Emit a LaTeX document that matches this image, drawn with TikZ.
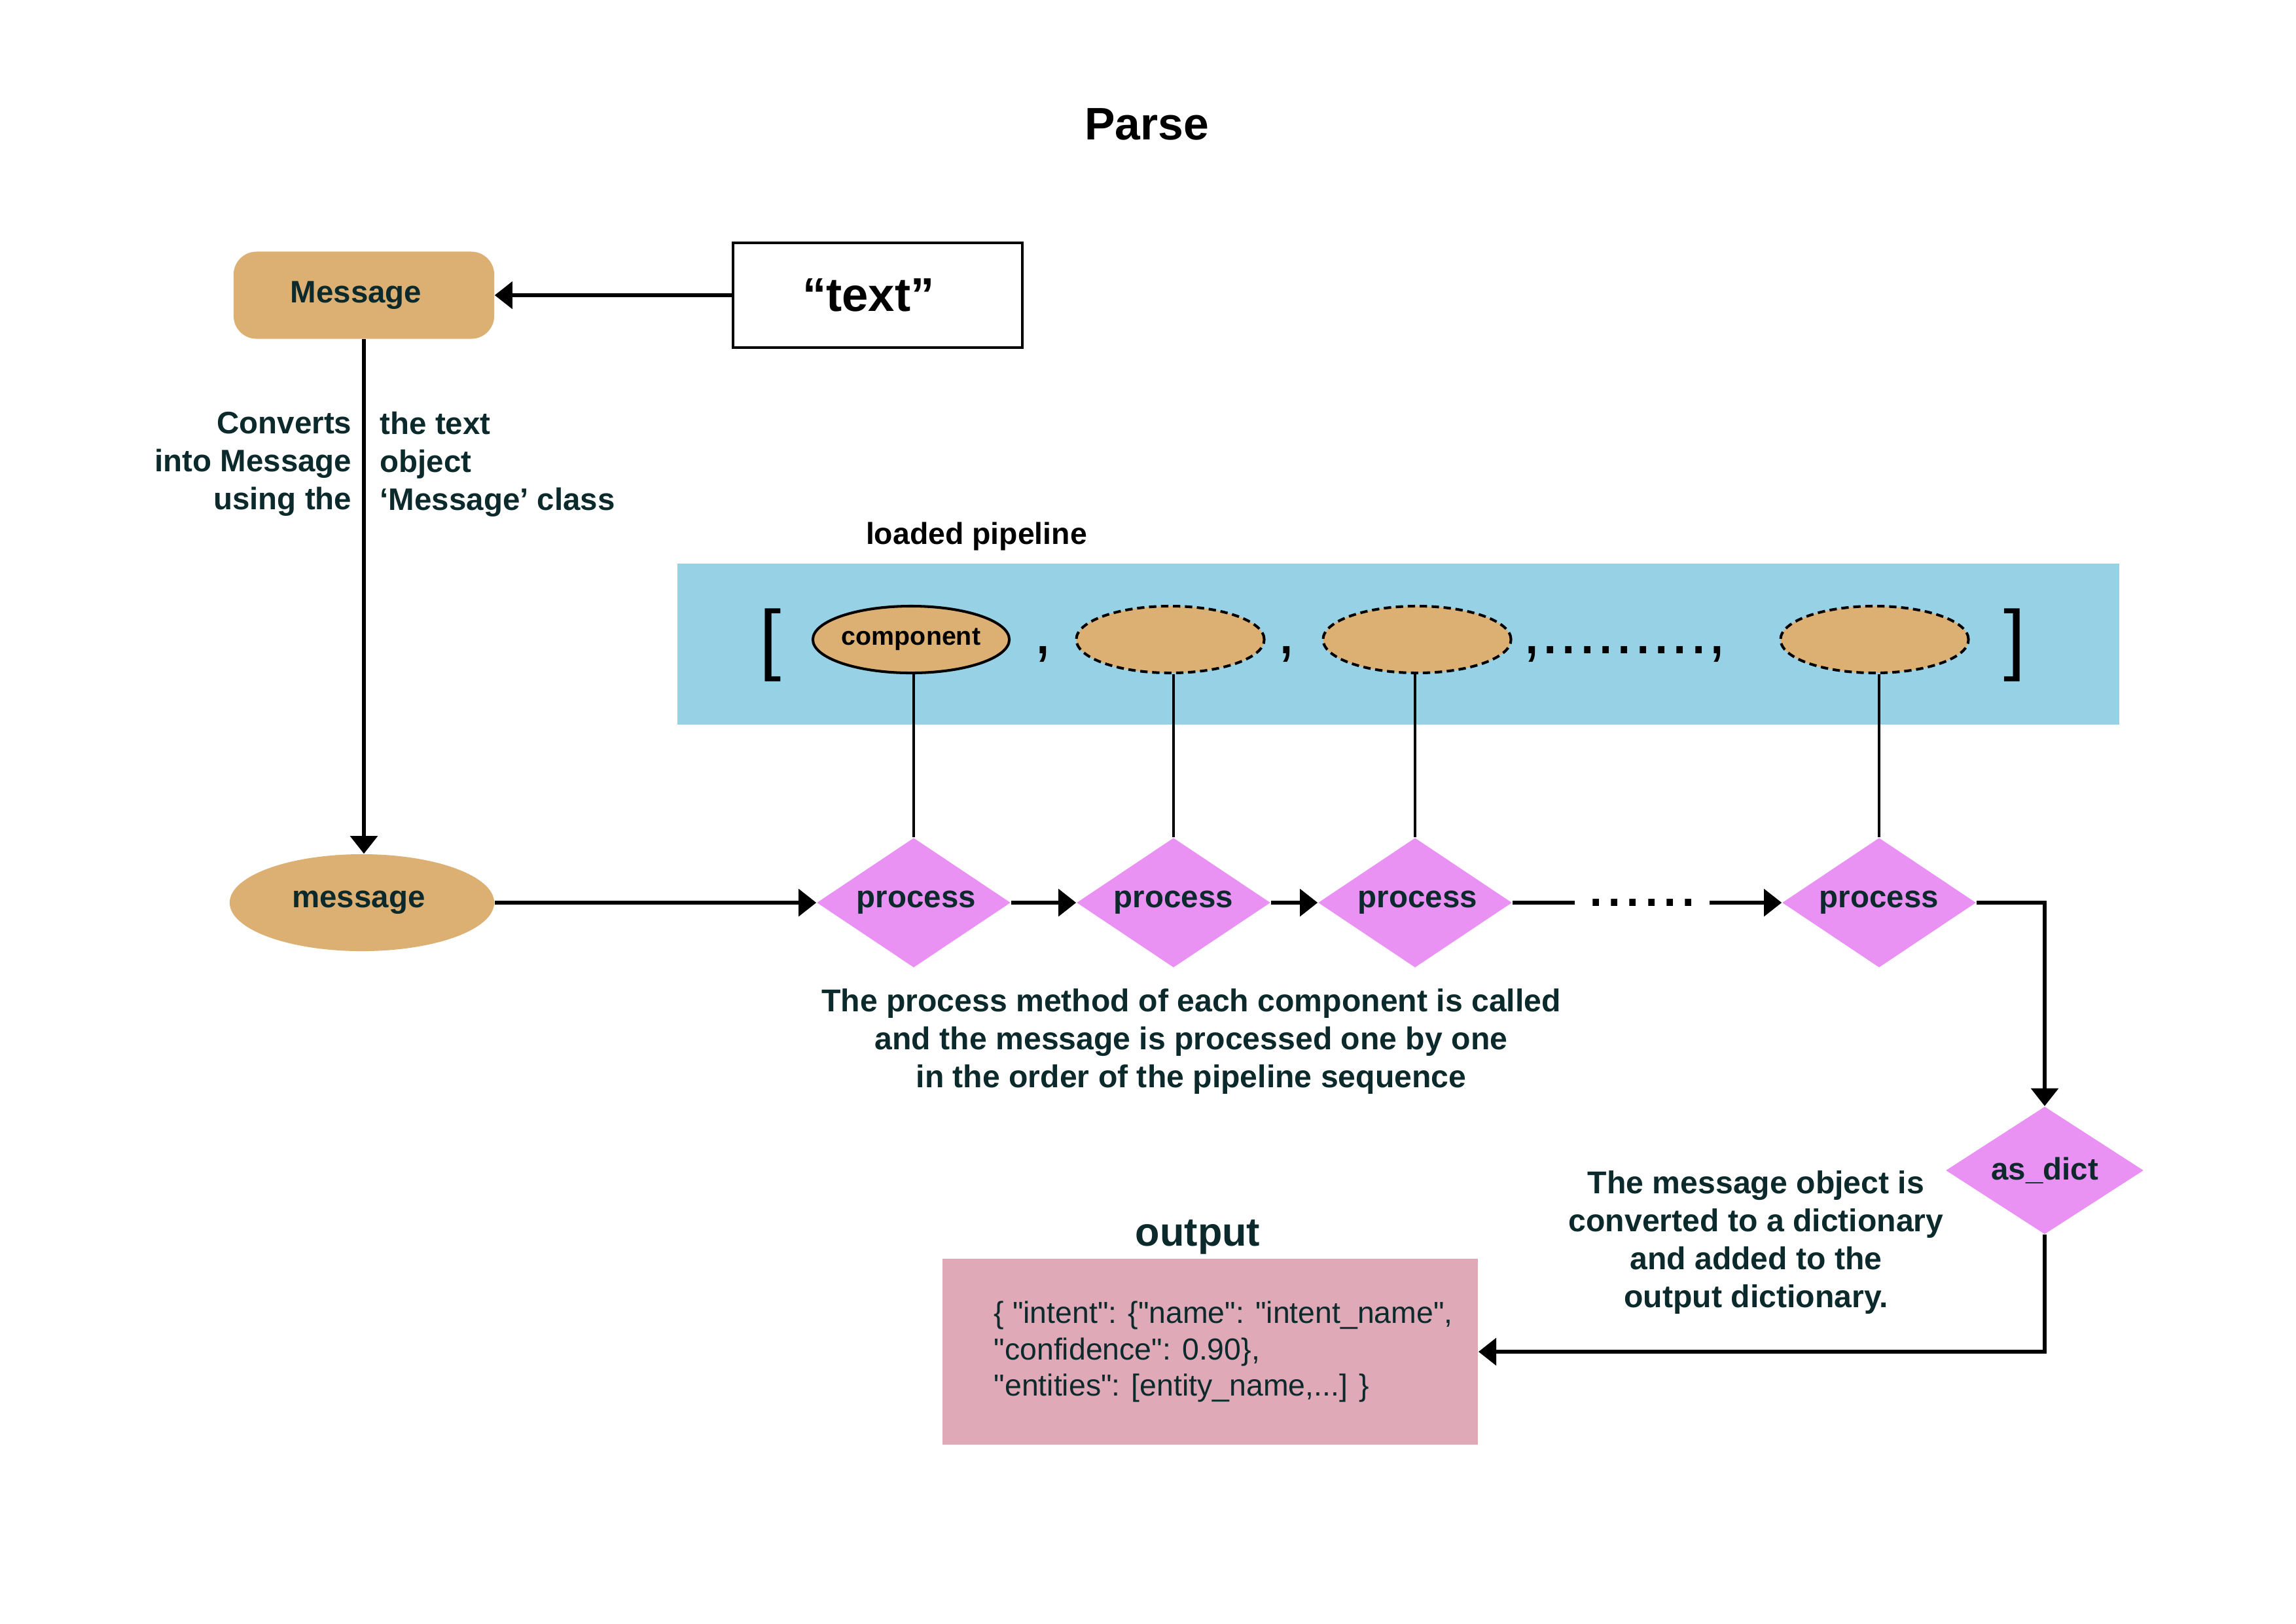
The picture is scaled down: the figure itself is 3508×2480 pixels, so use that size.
\documentclass[tikz,border=0pt]{standalone}
\usepackage{fontspec}
\setmainfont{Liberation Sans}[Ligatures=TeXOff]
\usetikzlibrary{shapes.geometric,arrows.meta}

\definecolor{darkink}{HTML}{0C2A2B}
\definecolor{msgtan}{HTML}{DCB073}
\definecolor{procpink}{HTML}{EA92F3}
\definecolor{pipeblue}{HTML}{97D1E5}
\definecolor{outpink}{HTML}{DFA9B8}

\newcommand{\labelfont}{\bfseries\fontsize{13.5pt}{16.5pt}\selectfont}
\newcommand{\notefont}{\bfseries\fontsize{13.7pt}{16.5pt}\selectfont}

\begin{document}
\begin{tikzpicture}[
  x=0.01cm, y=-0.01cm,
  conn/.style={line width=1.56pt, draw=black},
  thinconn/.style={line width=1.2pt, draw=black},
  arr/.style={conn, -{Triangle[length=7.7pt,width=11.7pt]}},
  lbl/.style={font=\labelfont, text=darkink, inner sep=0pt},
  note/.style={font=\notefont, text=darkink, inner sep=0pt, align=center},
  msgbox/.style={rectangle, rounded corners=0.35cm, fill=msgtan,
    minimum width=3.98cm, minimum height=1.33cm, inner sep=0pt,
    font=\labelfont, text=darkink},
  textbox/.style={rectangle, draw=black, fill=white, line width=1.2pt,
    minimum width=4.42cm, minimum height=1.60cm, inner sep=0pt,
    font=\bfseries\fontsize{20.6pt}{24pt}\selectfont, text=black},
  msgell/.style={ellipse, fill=msgtan, minimum width=4.04cm,
    minimum height=1.48cm, inner sep=0pt, font=\labelfont, text=darkink},
  comp/.style={ellipse, fill=msgtan, draw=black, line width=1.15pt,
    minimum width=2.87cm, minimum height=1.02cm, inner sep=0pt,
    font=\bfseries\fontsize{11.2pt}{13pt}\selectfont, text=black},
  compdash/.style={comp, dash pattern=on 3.2pt off 2pt},
  proc/.style={diamond, aspect=1.5, fill=procpink, minimum width=2.96cm,
    minimum height=1.98cm, inner sep=0pt, font=\labelfont, text=darkink},
  sepmark/.style={font=\fontsize{29pt}{34pt}\selectfont, text=black, inner sep=0pt},
  bracket/.style={font=\fontsize{34pt}{40pt}\selectfont, text=black, inner sep=0pt}
]
\useasboundingbox (0,0) rectangle (3508,2480);
\fill[white] (0,0) rectangle (3508,2480);

% title
\node[font=\bfseries\fontsize{19.8pt}{24pt}\selectfont, text=black, anchor=base]
  (title) at (1752,213) {Parse};

% input text and Message object
\node[textbox] (txt) at (1341,451) {“text”\kern0.28cm};
\node[msgbox] (Msg) at (556,451) {Message\kern0.24cm};

\node[lbl, align=right, anchor=east] (convL) at (538,709)
  {Converts\\into Message\\using the};
\node[lbl, align=left, anchor=west] (convR) at (580,709)
  {the text\\object\\‘Message’ class};

\node[msgell] (msg) at (553,1379) {message\kern0.1cm};

% loaded pipeline
\node[font=\bfseries\fontsize{13.2pt}{16pt}\selectfont, text=black, anchor=base]
  (plabel) at (1492,831) {loaded pipeline};
\node[fill=pipeblue, minimum width=22.01cm, minimum height=2.46cm, inner sep=0pt]
  (pipe) at (2136.5,984) {};

\node[bracket] (lb) at (1177,986) {[};
\node[bracket] (rb) at (3078,986) {]};

\node[comp] (c1) at (1392,977) {component};
\node[compdash] (c2) at (1788,977) {};
\node[compdash] (c3) at (2165,977) {};
\node[compdash] (c4) at (2864,977) {};

\node[sepmark, anchor=base] (s1) at (1594,998) {,};
\node[sepmark, anchor=base] (s2) at (1966,998) {,};
\node[sepmark, anchor=base] (s3) at (2482,998) {,.........,};

% process chain
\node[proc] (p1) at (1396,1379) {\kern0.08cm process};
\node[proc] (p2) at (1793,1379) {process};
\node[proc] (p3) at (2162,1379) {\kern0.08cm process};
\node[proc] (p4) at (2871,1379) {process};
\node[sepmark, inner xsep=0.175cm, inner ysep=0pt] (dots) at (2509,1379) {......};

\node[proc, aspect=1.55, minimum width=3.02cm, minimum height=1.95cm]
  (asd) at (3124,1788) {as\_dict};

\node[note] (procnote) at (1820,1591)
  {The process method of each component is called\\and the message is processed one by one\\in the order of the pipeline sequence};
\node[note] (asdnote) at (2683,1898)
  {The message object is\\converted to a dictionary\\and added to the\\output dictionary.};

% output dictionary
\node[font=\bfseries\fontsize{17.4pt}{20pt}\selectfont, text=darkink, anchor=base]
  (outtitle) at (1830,1903) {output};
\node[fill=outpink, minimum width=8.18cm, minimum height=2.83cm, inner sep=0pt]
  (outbox) at (1849,2065) {};
\node[font=\fontsize{13.2pt}{15.9pt}\selectfont, text=darkink, align=left,
  anchor=west, inner sep=0pt] (outtext) at (1518,2065)
  {\{ "intent": \{"name": "intent\_name",\\"confidence": 0.90\},\\"entities": [entity\_name,...] \}};

% connectors
\draw[arr] (txt.west) -- (txt.west -| Msg.east);
\draw[arr] (Msg.south) -- (Msg.south |- msg.north);
\draw[arr] (msg.east) -- (p1.west);
\draw[arr] (p1.east) -- (p2.west);
\draw[arr] (p2.east) -- (p3.west);
\draw[conn] (p3.east) -- (dots.west);
\draw[arr] (dots.east) -- (p4.west);
\draw[arr] (p4.east) -| (asd.north);
\draw[arr] (asd.south) |- (outbox.east);

\draw[thinconn] (c1.south -| p1.north) -- (p1.north);
\draw[thinconn] (c2.south -| p2.north) -- (p2.north);
\draw[thinconn] (c3.south -| p3.north) -- (p3.north);
\draw[thinconn] (c4.south -| p4.north) -- (p4.north);
\end{tikzpicture}
\end{document}
